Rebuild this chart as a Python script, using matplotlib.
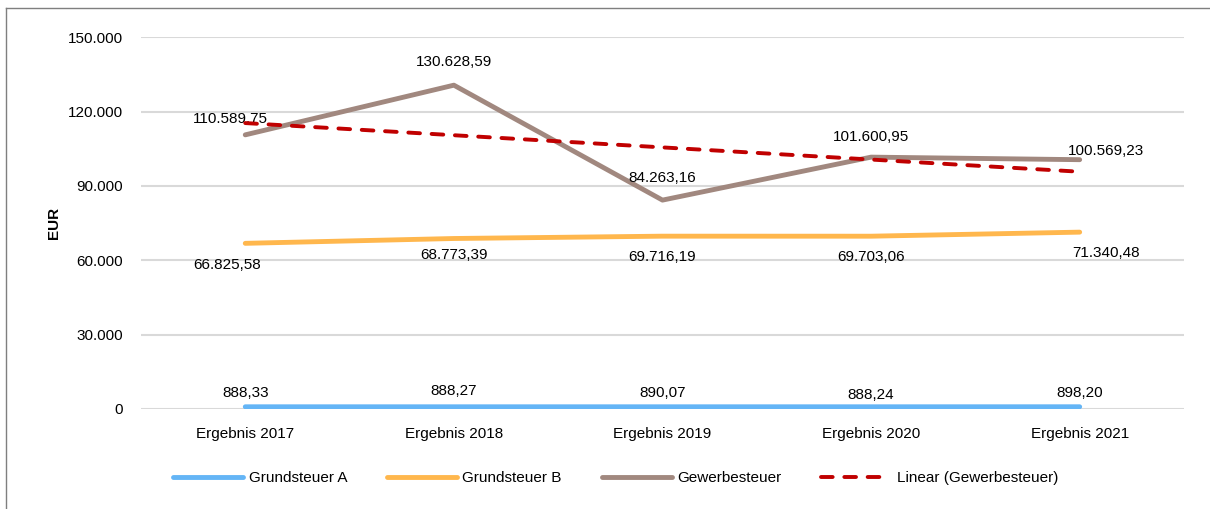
import matplotlib.pyplot as plt
import numpy as np
from matplotlib.lines import Line2D

plt.rcParams['font.family'] = ['Liberation Sans', 'DejaVu Sans']

# Daten
years = ['Ergebnis 2017', 'Ergebnis 2018', 'Ergebnis 2019', 'Ergebnis 2020', 'Ergebnis 2021']
grundA = [888.33, 888.27, 890.07, 888.24, 898.20]
grundB = [66825.58, 68773.39, 69716.19, 69703.06, 71340.48]
gewerbe = [110589.75, 130628.59, 84263.16, 101600.95, 100569.23]
yticks = [0, 30000, 60000, 90000, 120000, 150000]


def de(v, dec=2):
    s = f'{v:,.{dec}f}'
    return s.replace(',', 'X').replace('.', ',').replace('X', '.')


x = np.arange(len(years))
# linearer Trend (wie Excel-Trendlinie)
k, d = np.polyfit(x, gewerbe, 1)
trend = k*x + d

fig = plt.figure(figsize=(12.1, 5.09), dpi=100)
ax = fig.add_axes([0.1165, 0.1965, 0.862, 0.7305])

cA = '#64b5f6'
cB = '#ffb74d'
cG = '#a1887f'
cT = '#c00000'

ax.plot(x, grundA, color=cA, lw=3.5, solid_capstyle='round', zorder=3, label='Grundsteuer A')
ax.plot(x, grundB, color=cB, lw=3.5, solid_capstyle='round', zorder=3, label='Grundsteuer B')
ax.plot(x, gewerbe, color=cG, lw=3.5, solid_capstyle='round', zorder=3, label='Gewerbesteuer')
ax.plot(x, trend, color=cT, lw=2.8, ls=(0, (3, 3)), dash_capstyle='round', zorder=4,
        label='Linear (Gewerbesteuer)')

# Datenbeschriftungen
offA = [(0, 14), (0, 16), (0, 14), (0, 12), (0, 14)]
offB = [(-18, -22), (0, -16), (0, -21), (0, -21), (26, -21)]
offG = [(-15, 16), (0, 23), (0, 22), (0, 20), (26, 9)]
for i in range(len(years)):
    ax.annotate(de(grundA[i]), (x[i], grundA[i]), xytext=offA[i], textcoords='offset pixels',
                ha='center', va='center', fontsize=11)
    ax.annotate(de(grundB[i]), (x[i], grundB[i]), xytext=offB[i], textcoords='offset pixels',
                ha='center', va='center', fontsize=11)
    ax.annotate(de(gewerbe[i]), (x[i], gewerbe[i]), xytext=offG[i], textcoords='offset pixels',
                ha='center', va='center', fontsize=11)

ax.set_xlim(-0.5, len(years)-0.5)
ax.set_ylim(0, 150000)
ax.set_yticks(yticks)
ax.set_yticklabels([de(v, 0) for v in yticks], fontsize=11)
ax.set_xticks(x)
ax.set_xticklabels(years, fontsize=11)
ax.tick_params(axis='y', length=0, pad=13)
ax.tick_params(axis='x', length=0, pad=13)
ax.grid(axis='y', color='#d9d9d9', lw=1.5, zorder=0)
for s in ax.spines.values():
    s.set_visible(False)
ax.set_ylabel('EUR', fontsize=11, fontweight='bold', labelpad=5)

leg = ax.legend(loc='upper center', bbox_to_anchor=(0.455, -0.13), ncol=4, frameon=False,
                fontsize=11, handlelength=4.6, handletextpad=0.35, columnspacing=2.6)

# Rahmen links und oben
fig.add_artist(Line2D([0.005, 0.005], [0, 0.985], transform=fig.transFigure, color='#7f7f7f', lw=1))
fig.add_artist(Line2D([0.005, 1], [0.985, 0.985], transform=fig.transFigure, color='#7f7f7f', lw=1))

fig.savefig('out.png', dpi=100)
